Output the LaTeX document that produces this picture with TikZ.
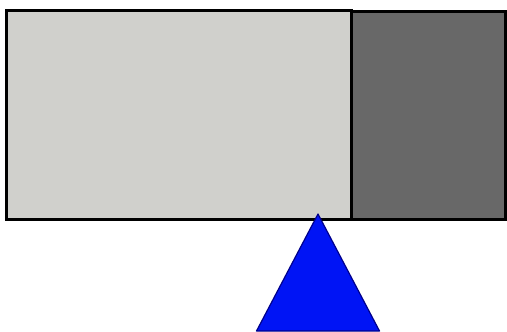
\documentclass[tikz,border=0pt]{standalone}
\begin{document}
\begin{tikzpicture}[x=1pt,y=-1pt,
  box/.style={draw=black,line width=3pt},
  tri/.style={draw={rgb,255:red,0;green,0;blue,140},fill={rgb,255:red,0;green,20;blue,245},line width=1.2pt,line join=round}]
\useasboundingbox (0,0) rectangle (507,332);
\path[box,fill={rgb,255:red,208;green,208;blue,204}] (6.5,10) rectangle (351.5,219.5);
\path[box,fill={rgb,255:red,104;green,104;blue,104}] (351.5,11) rectangle (505.5,219.5);
\coordinate (apex) at (318,214);
\coordinate (bl) at (256.5,331);
\coordinate (br) at (379.5,331);
\path[tri] (apex) -- (bl) -- (br) -- cycle;
\end{tikzpicture}
\end{document}
